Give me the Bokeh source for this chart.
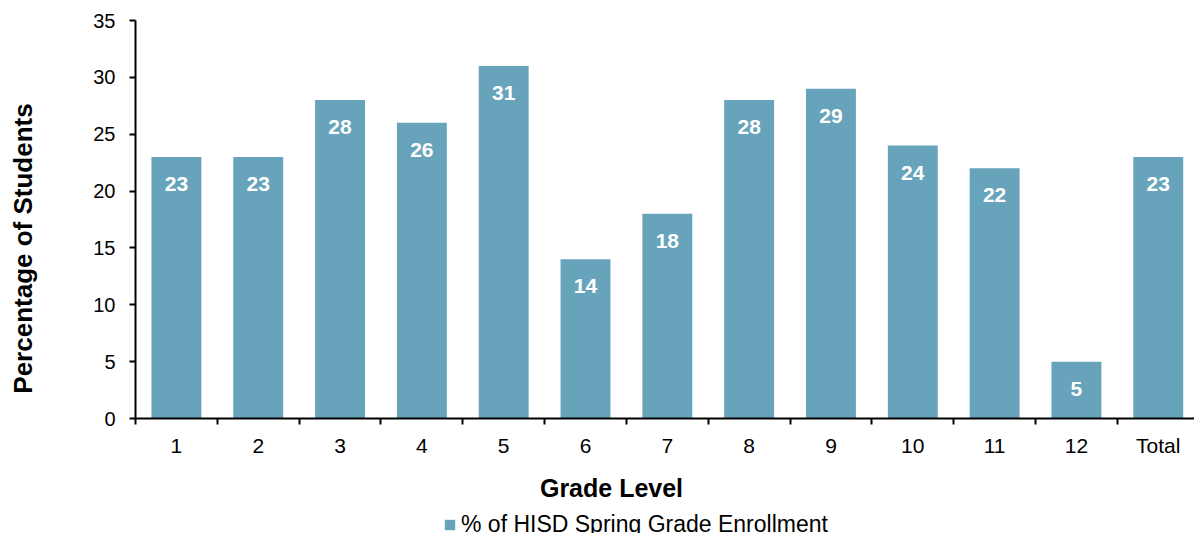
import math
from bokeh.plotting import figure
from bokeh.models import (ColumnDataSource, FixedTicker, LabelSet, Label, Legend, LegendItem, Range1d)
from bokeh.core.properties import value
from bokeh.embed import file_html
from bokeh.resources import INLINE

categories = ["1", "2", "3", "4", "5", "6", "7", "8", "9", "10", "11", "12", "Total"]
values = [23, 23, 28, 26, 31, 14, 18, 28, 29, 24, 22, 5, 23]
y_ticks = [0, 5, 10, 15, 20, 25, 30, 35]
series_name = "% of HISD Spring Grade Enrollment"
x_title = "Grade Level"
y_title = "Percentage of Students"

BAR = "#67A3BA"
FONT = "Liberation Sans"

W, H = 1194, 533
FL, FT, FB = 135, 20, 418          # pixel position of the plotting area
YMAX = 35
px_per_cat = 81.82
px_per_y = (FB - FT) / YMAX

xs = [i + 0.5 for i in range(len(categories))]
src = ColumnDataSource(dict(x=xs, top=values, lab=[str(v) for v in values]))

x_end = (W - FL) / px_per_cat
p = figure(width=W, height=H, output_backend="svg", toolbar_location=None,
           x_range=Range1d(-FL / px_per_cat, x_end),
           y_range=Range1d(-(H - FB) / px_per_y, YMAX + FT / px_per_y),
           min_border=0)
p.outline_line_color = None
p.grid.visible = False
p.background_fill_color = "white"
p.title.visible = False

r = p.vbar(x="x", top="top", width=0.61, source=src, fill_color=BAR, line_color=None)

labels = LabelSet(x="x", y="top", text="lab", source=src, text_color="white",
                  text_font=value(FONT), text_font_style="bold", text_font_size="21px",
                  text_align="center", text_baseline="middle", y_offset=-27)
p.add_layout(labels)

# x axis: labels at centres, ticks at category boundaries
xa = p.xaxis[0]
xa.fixed_location = 0
xa.bounds = (0, x_end)
xa.ticker = FixedTicker(ticks=xs, minor_ticks=list(range(len(categories) + 1)))
xa.major_label_overrides = {x: c for x, c in zip(xs, categories)}
xa.major_tick_line_color = None
xa.minor_tick_line_color = "black"
xa.minor_tick_line_width = 2
xa.minor_tick_out = 6
xa.minor_tick_in = 0
xa.axis_line_color = "black"
xa.axis_line_width = 2
xa.major_label_text_font = FONT
xa.major_label_text_font_size = "21px"
xa.major_label_text_color = "black"
xa.major_label_standoff = 9

ya = p.yaxis[0]
ya.fixed_location = 0
ya.bounds = (0, YMAX)
ya.ticker = FixedTicker(ticks=y_ticks)
ya.minor_tick_line_color = None
ya.major_tick_line_color = "black"
ya.major_tick_line_width = 2
ya.major_tick_out = 6
ya.major_tick_in = 0
ya.axis_line_color = "black"
ya.axis_line_width = 2
ya.major_label_text_font = FONT
ya.major_label_text_font_size = "20px"
ya.major_label_text_color = "black"
ya.major_label_standoff = 14

xlab = Label(x=611, y=H - 487, x_units="screen", y_units="screen",
             text=x_title, text_align="center", text_baseline="middle",
             text_font=FONT, text_font_style="bold", text_font_size="25px", text_color="black")
p.add_layout(xlab)

ylab = Label(x=22, y=H - 248, x_units="screen", y_units="screen",
             text=y_title, angle=math.pi / 2, text_align="center", text_baseline="middle",
             text_font=FONT, text_font_style="bold", text_font_size="26px", text_color="black")
p.add_layout(ylab)

legend = Legend(items=[LegendItem(label=series_name, renderers=[r])],
                location=(443, -5), orientation="horizontal",
                label_text_font=FONT, label_text_font_size="23px", label_text_color="black",
                glyph_width=13, glyph_height=13, label_standoff=5, padding=0, margin=0,
                border_line_color=None, background_fill_alpha=0)
p.add_layout(legend)

open("out.html", "w").write(file_html(p, INLINE))
